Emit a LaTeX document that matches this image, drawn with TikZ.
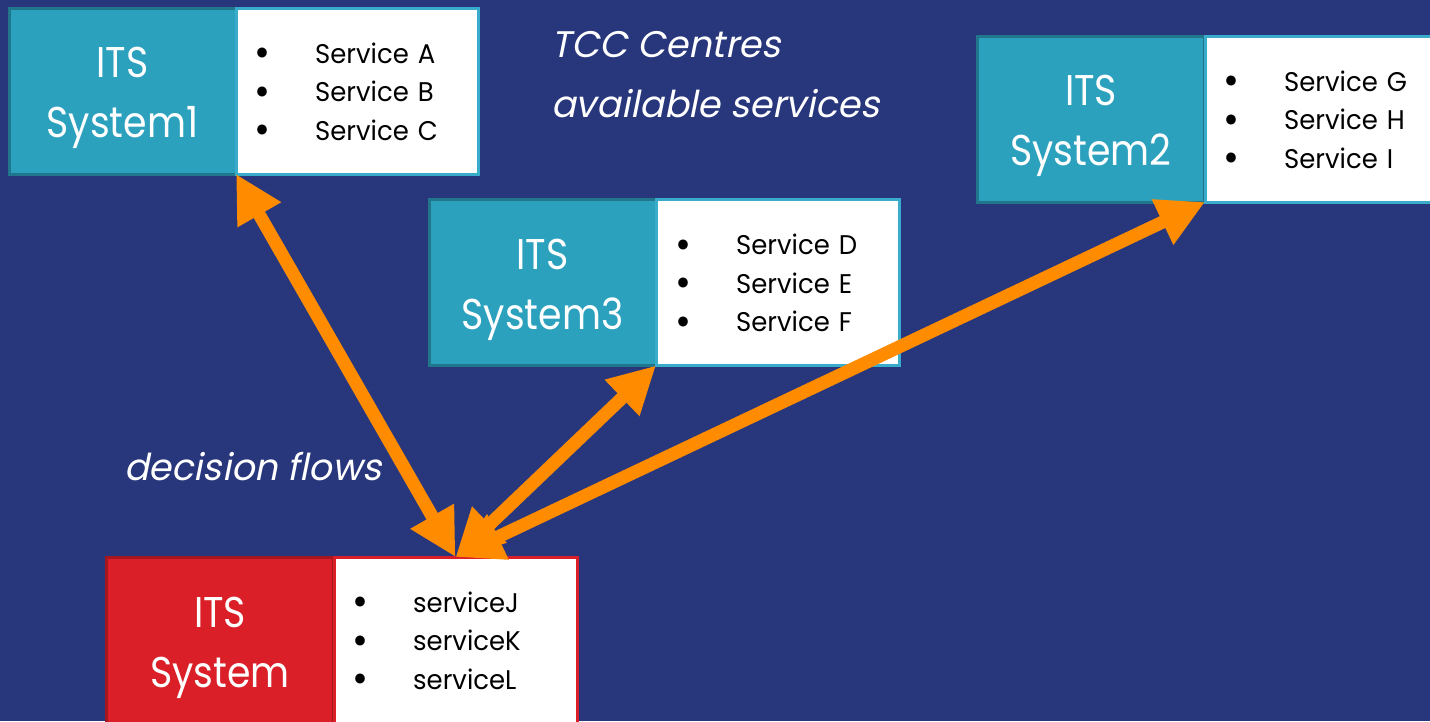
\documentclass[tikz,border=0pt]{standalone}
\usepackage{fontspec}
\setmainfont{Poppins}[FakeStretch=0.88]
\newfontfamily\listfont{Poppins}[FakeStretch=0.96]
\newfontfamily\slantfont{Poppins}[FakeSlant=0.2,FakeStretch=0.99]
\usetikzlibrary{arrows.meta}
\definecolor{navy}{RGB}{40,54,124}
\definecolor{systeal}{RGB}{44,161,190}
\definecolor{tealdark}{RGB}{34,118,140}
\definecolor{teallight}{RGB}{56,172,202}
\definecolor{sysred}{RGB}{218,31,40}
\definecolor{reddark}{RGB}{165,22,30}
\definecolor{flow}{RGB}{255,140,0}
\tikzset{
  sysbox/.style={draw=tealdark, fill=systeal, line width=3pt,
    minimum width=227pt, minimum height=166pt, outer sep=0pt, inner sep=0pt},
  systext/.style={text=white, align=center, inner sep=0pt,
    font=\fontsize{43}{60}\selectfont},
  listbox/.style={draw=teallight, fill=white, line width=3pt,
    minimum height=166pt, outer sep=0pt, inner sep=0pt},
  listtext/.style={anchor=west, inner sep=0pt, text=black, align=left,
    text width=200pt, font=\listfont\fontsize{27}{38.5}\selectfont},
  caption/.style={text=white, anchor=west, inner sep=0pt, align=left,
    font=\slantfont\fontsize{37}{60}\selectfont},
  flowarrow/.style={draw=flow, line width=13pt,
    {Triangle[length=47pt,width=47pt]}-{Triangle[length=47pt,width=47pt]}}
}
\newcommand{\svc}[1]{\makebox[61pt][l]{\raisebox{-3.5pt}{\scalebox{1.5}{\textbullet}}}#1}
\begin{document}
\begin{tikzpicture}[x=1pt,y=-1pt]
\useasboundingbox (0,0) rectangle (1430,721);
\fill[navy] (0,0) rectangle (1430,721);

% ITS System1
\node[sysbox] (s1) at (122.5,91) {};
\node[systext] (s1t) at (122.5,98) {ITS\\System1};
\node[listbox, minimum width=242pt] (s1l) at (357,91) {};
\node[listtext] (s1x) at (254,93)
  {\svc{Service A}\\\svc{Service B}\\\svc{Service C}};

% ITS System3
\node[sysbox] (s3) at (542.5,282.5) {};
\node[systext] (s3t) at (542.5,290) {ITS\\System3};
\node[listbox, minimum width=243pt] (s3l) at (777.5,282.5) {};
\node[listtext] (s3x) at (675,284.5)
  {\svc{Service D}\\\svc{Service E}\\\svc{Service F}};

% ITS System2
\node[sysbox] (s2) at (1091,119) {};
\node[systext] (s2t) at (1091,126) {ITS\\System2};
\node[listbox, minimum width=240pt] (s2l) at (1325,119) {};
\node[listtext] (s2x) at (1223,121)
  {\svc{Service G}\\\svc{Service H}\\\svc{Service I}};

% local ITS System
\node[sysbox, fill=sysred, draw=reddark] (sb) at (220,640) {};
\node[systext] (sbt) at (220,648) {ITS\\System};
\node[listbox, draw=sysred, minimum width=243pt] (sbl) at (455.5,640) {};
\node[listtext] (sbx) at (352,642)
  {\svc{serviceJ}\\\svc{serviceK}\\\svc{serviceL}};

% captions
\node[caption] (tcc) at (551,75) {TCC Centres\\available services};
\node[caption] (dec) at (124,467) {decision flows};

% decision flows
\draw[flowarrow] (s1l.south west) -- (sbl.north);
\draw[flowarrow] (s3l.south west) -- (sbl.north);
\draw[flowarrow] (s2l.south west) -- (sbl.north);
\end{tikzpicture}
\end{document}
